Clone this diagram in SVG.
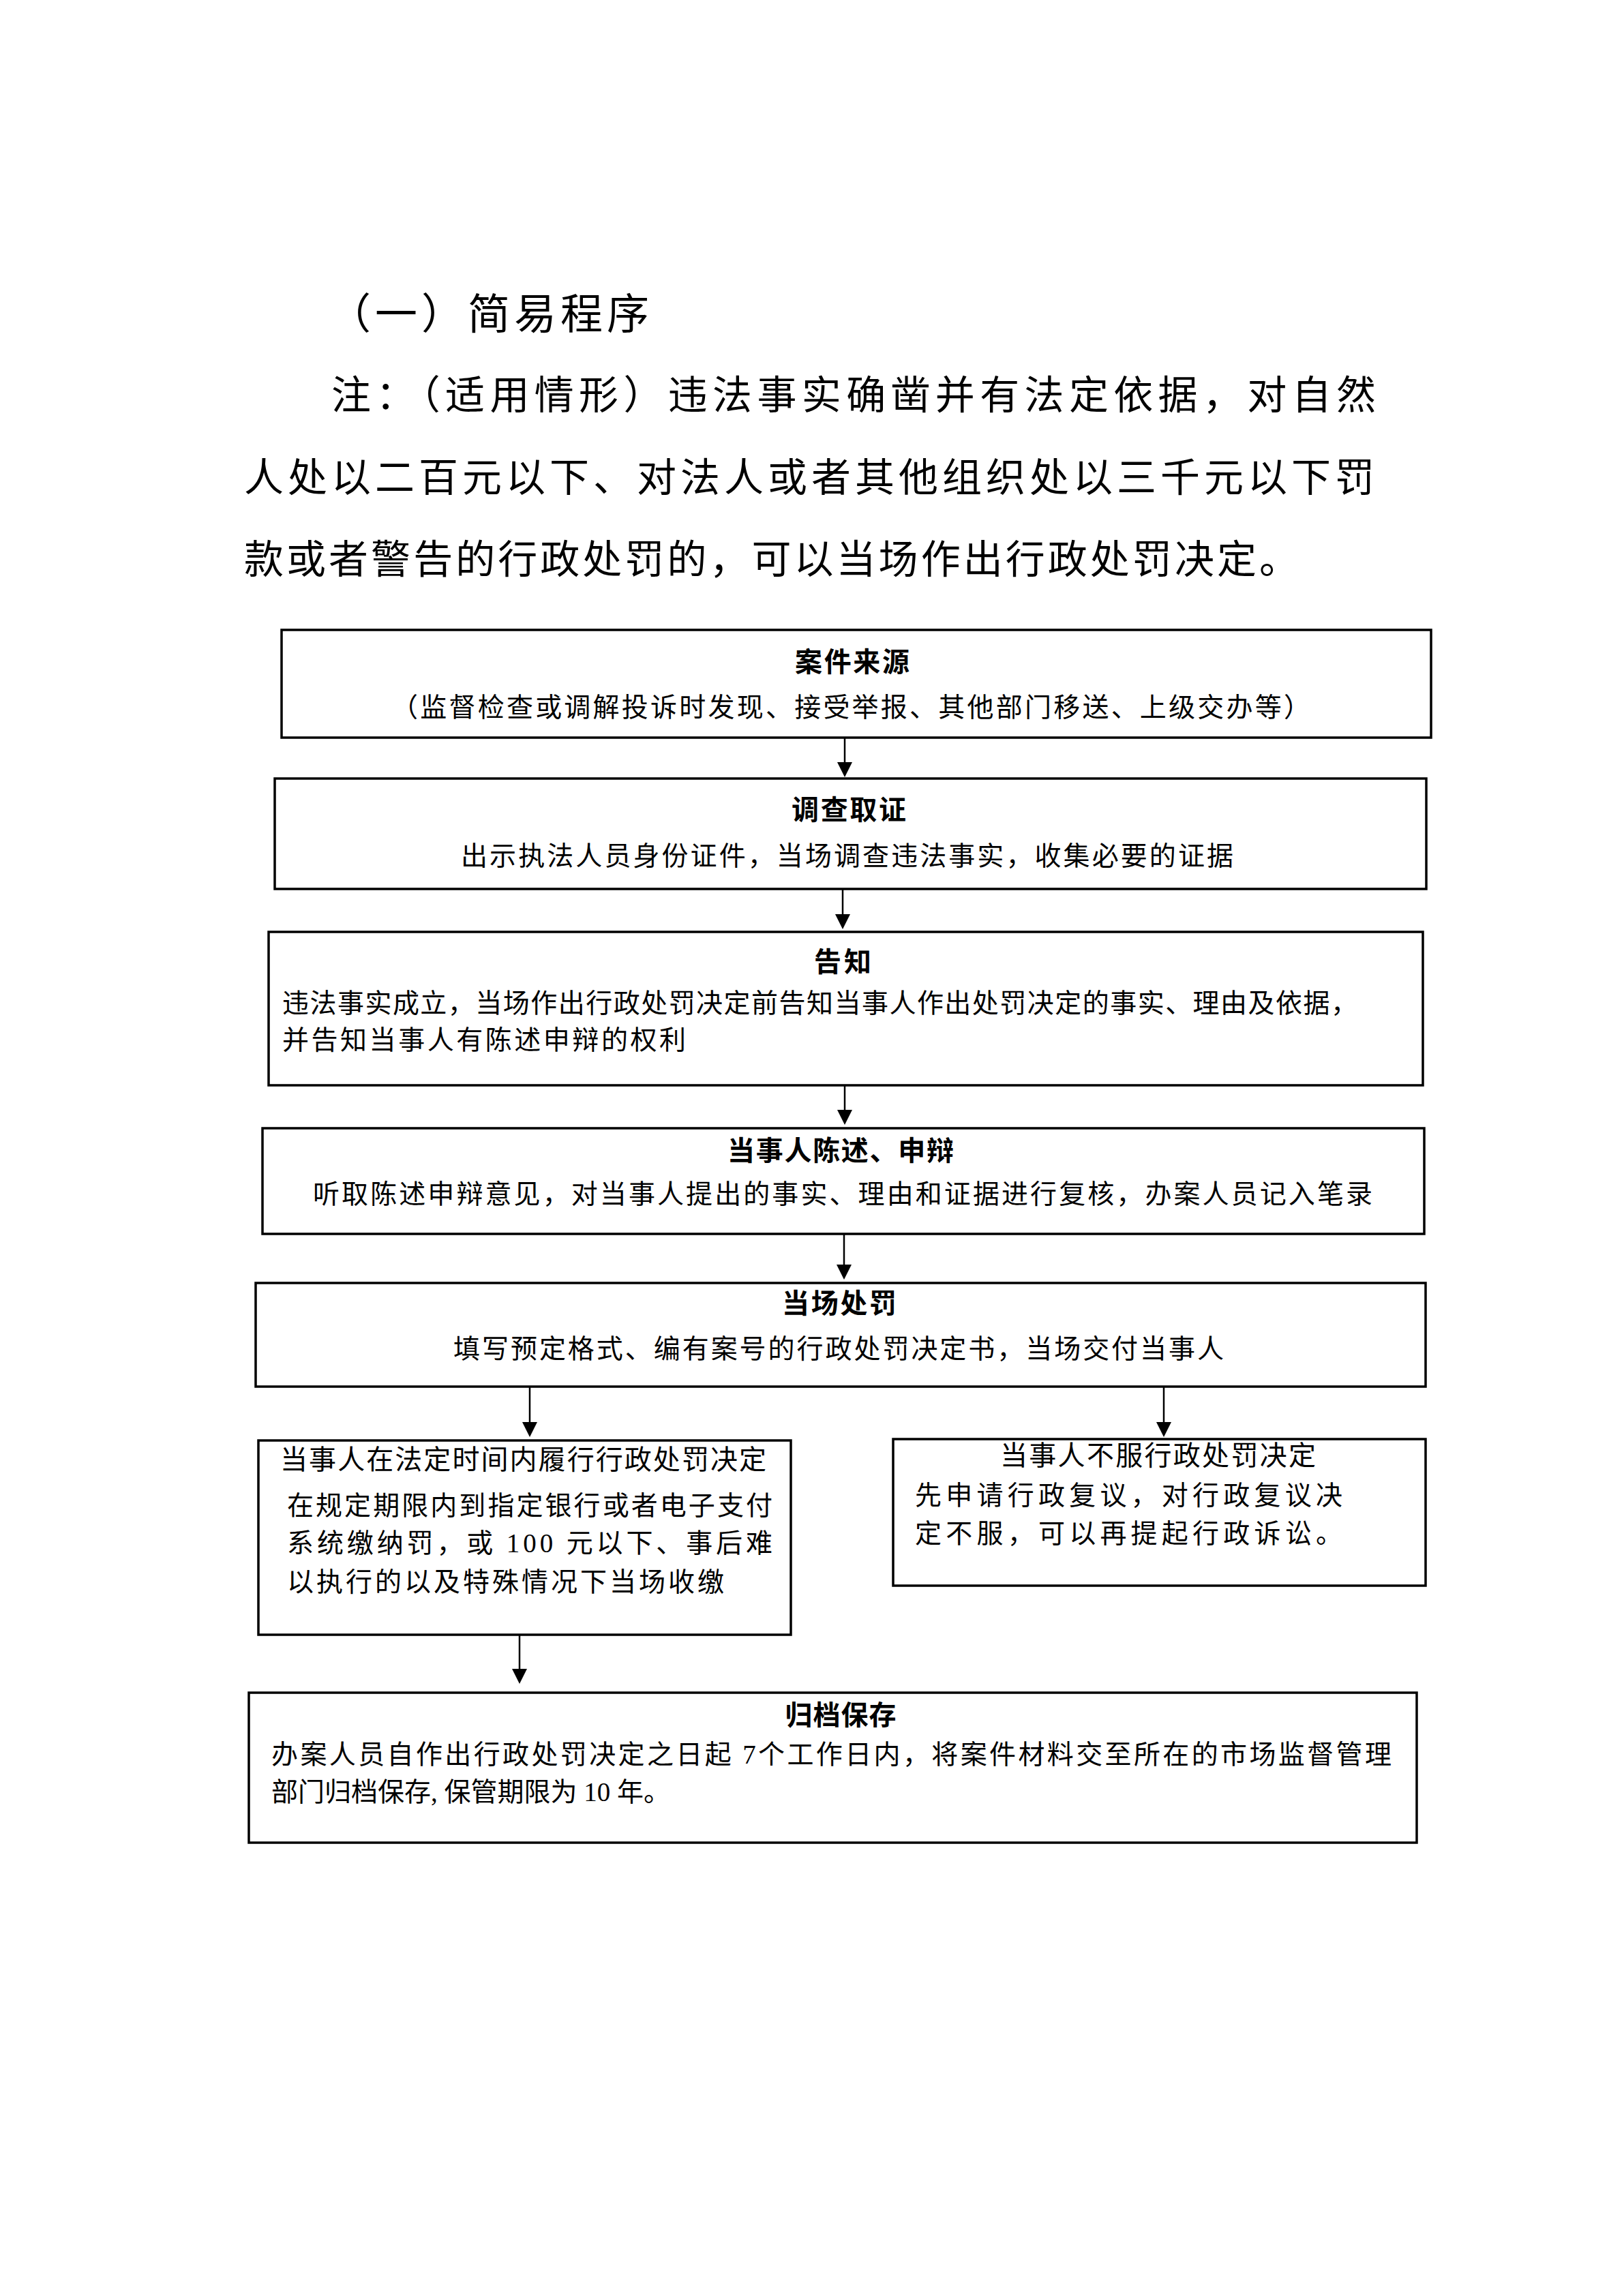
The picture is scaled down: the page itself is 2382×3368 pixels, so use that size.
<svg xmlns="http://www.w3.org/2000/svg" width="2382" height="3368" viewBox="0 0 2382 3368">
<style>
.bg{fill:#ffffff}
.box{fill:#ffffff;stroke:#000000;stroke-width:3.5}
.hd{font-family:'Liberation Serif','Noto Sans CJK SC',serif;fill:#000000}
.h1{font-size:62px}
.h2{font-size:58px}
.t{font-family:'Noto Sans CJK SC',sans-serif;font-size:40px;font-weight:bold;fill:#000000}
.tr{font-family:'Liberation Serif','Noto Sans CJK SC',serif;font-size:40px;fill:#000000}
.b{font-family:'Liberation Serif','Noto Sans CJK SC',serif;font-size:39px;fill:#000000}
.c{text-anchor:middle}
.conn{stroke:#000000;stroke-width:2.5;fill:none;marker-end:url(#ah)}
</style>
<defs>
<marker id="ah" markerUnits="userSpaceOnUse" markerWidth="22" markerHeight="22" refX="10" refY="11" orient="auto">
<path d="M0,0 L22,11 L0,22 Z" fill="#000000"/>
</marker>
</defs>
<rect class="bg" x="0" y="0" width="2382" height="3368"/>
<g id="header">
<text class="hd h1" x="482" y="483" textLength="470" lengthAdjust="spacing">（一）简易程序</text>
<text class="hd h2" x="486" y="600" textLength="1532" lengthAdjust="spacing">注：（适用情形）违法事实确凿并有法定依据，对自然</text>
<text class="hd h2" x="358" y="721" textLength="1658" lengthAdjust="spacing">人处以二百元以下、对法人或者其他组织处以三千元以下罚</text>
<text class="hd h2" x="358" y="841" textLength="1547" lengthAdjust="spacing">款或者警告的行政处罚的，可以当场作出行政处罚决定。</text>
</g>
<g id="n1">
<rect class="box" x="413" y="924" width="1686" height="158"/>
<text class="t c" x="1250" y="985" textLength="168" lengthAdjust="spacing">案件来源</text>
<text class="b" x="574" y="1051" textLength="1348" lengthAdjust="spacing">（监督检查或调解投诉时发现、接受举报、其他部门移送、上级交办等）</text>
</g>
<g id="n2">
<rect class="box" x="403" y="1142" width="1689" height="162"/>
<text class="t c" x="1245" y="1202" textLength="168" lengthAdjust="spacing">调查取证</text>
<text class="b" x="676" y="1269" textLength="1133" lengthAdjust="spacing">出示执法人员身份证件，当场调查违法事实，收集必要的证据</text>
</g>
<g id="n3">
<rect class="box" x="394" y="1367" width="1693" height="225"/>
<text class="t c" x="1236" y="1425" textLength="84" lengthAdjust="spacing">告知</text>
<text class="b" x="414" y="1485" textLength="1577" lengthAdjust="spacing">违法事实成立，当场作出行政处罚决定前告知当事人作出处罚决定的事实、理由及依据，</text>
<text class="b" x="414" y="1539" textLength="592" lengthAdjust="spacing">并告知当事人有陈述申辩的权利</text>
</g>
<g id="n4">
<rect class="box" x="385" y="1655" width="1704" height="155"/>
<text class="t c" x="1233" y="1702" textLength="332" lengthAdjust="spacing">当事人陈述、申辩</text>
<text class="b" x="459" y="1765" textLength="1554" lengthAdjust="spacing">听取陈述申辩意见，对当事人提出的事实、理由和证据进行复核，办案人员记入笔录</text>
</g>
<g id="n5">
<rect class="box" x="375" y="1882" width="1716" height="152"/>
<text class="t c" x="1231" y="1926" textLength="168" lengthAdjust="spacing">当场处罚</text>
<text class="b" x="665" y="1992" textLength="1130" lengthAdjust="spacing">填写预定格式、编有案号的行政处罚决定书，当场交付当事人</text>
</g>
<g id="n6">
<rect class="box" x="379" y="2113" width="781" height="285"/>
<text class="tr" x="411" y="2155" textLength="713" lengthAdjust="spacing">当事人在法定时间内履行行政处罚决定</text>
<text class="b" x="421" y="2222" textLength="712" lengthAdjust="spacing">在规定期限内到指定银行或者电子支付</text>
<text class="b" x="421" y="2277" textLength="712" lengthAdjust="spacing">系统缴纳罚，或 100 元以下、事后难</text>
<text class="b" x="421" y="2334" textLength="641" lengthAdjust="spacing">以执行的以及特殊情况下当场收缴</text>
</g>
<g id="n7">
<rect class="box" x="1310" y="2111" width="781" height="215"/>
<text class="tr" x="1467" y="2149" textLength="463" lengthAdjust="spacing">当事人不服行政处罚决定</text>
<text class="b" x="1342" y="2207" textLength="627" lengthAdjust="spacing">先申请行政复议，对行政复议决</text>
<text class="b" x="1342" y="2263" textLength="627" lengthAdjust="spacing">定不服，可以再提起行政诉讼。</text>
</g>
<g id="n8">
<rect class="box" x="365" y="2483" width="1713" height="220"/>
<text class="t c" x="1233" y="2530" textLength="163" lengthAdjust="spacing">归档保存</text>
<text class="b" x="398" y="2587" textLength="1643" lengthAdjust="spacing">办案人员自作出行政处罚决定之日起 7个工作日内，将案件材料交至所在的市场监督管理</text>
<text class="b" x="398" y="2642">部门归档保存, 保管期限为 10 年。</text>
</g>
<g id="connectors">
<line class="conn" x1="1239" y1="1082" x2="1239" y2="1128"/>
<line class="conn" x1="1236" y1="1304" x2="1236" y2="1351"/>
<line class="conn" x1="1239" y1="1592" x2="1239" y2="1638"/>
<line class="conn" x1="1238" y1="1810" x2="1238" y2="1865"/>
<line class="conn" x1="777" y1="2034" x2="777" y2="2096"/>
<line class="conn" x1="1707" y1="2034" x2="1707" y2="2096"/>
<line class="conn" x1="762" y1="2398" x2="762" y2="2458"/>
</g>
</svg>
